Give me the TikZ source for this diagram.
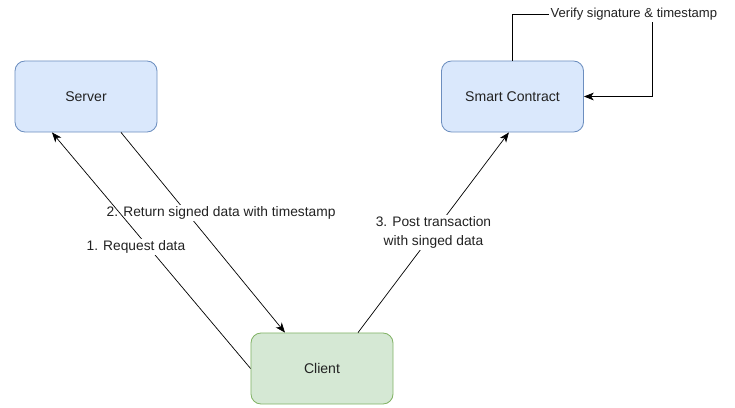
\documentclass[tikz,border=0pt]{standalone}
\usepackage{fontspec}
\setmainfont{Liberation Sans}
\usetikzlibrary{arrows.meta}
\definecolor{blueFill}{HTML}{DAE8FC}
\definecolor{blueLine}{HTML}{6C8EBF}
\definecolor{greenFill}{HTML}{D5E8D4}
\definecolor{greenLine}{HTML}{82B366}
\definecolor{txt}{HTML}{222222}
\tikzset{
  box/.style={draw,rectangle,rounded corners=0.25cm,line width=0.6pt,minimum width=3.55cm,minimum height=1.775cm,font=\fontsize{10}{12}\selectfont,text=txt},
  bluebox/.style={box,fill=blueFill,draw=blueLine},
  greenbox/.style={box,fill=greenFill,draw=greenLine},
  lbl/.style={fill=white,inner sep=1pt,font=\fontsize{9.8}{13.8}\selectfont,text=txt,align=center}
}
\begin{document}
\begin{tikzpicture}[>={Stealth[length=7pt,width=5.5pt,inset=2pt]},x=0.025cm,y=-0.025cm,line width=0.5pt]
\useasboundingbox (0,0) rectangle (735,407);
\node[bluebox] (server) at (86,96.5) {Server};
\node[bluebox] (sc) at (512.5,96.5) {Smart Contract};
\node[greenbox] (client) at (322,368.5) {Client};
\coordinate (loop) at (652,14);
\draw[->] ([xshift=0.875cm]server.south) -- node[lbl,pos=0.403,xshift=0.85cm] {2. Return signed data with timestamp} ([xshift=-0.925cm]client.north);
\draw[->] (client.west) -- node[lbl,pos=0.515,xshift=-0.31cm] {1. Request data} ([xshift=-0.85cm]server.south);
\draw[->] ([xshift=0.9cm]client.north) -- node[lbl,pos=0.5] {3. Post transaction\\with singed data} ([xshift=-0.09cm]sc.south);
\draw[->] (sc.north) |- node[lbl,pos=0.935,font=\fontsize{9.3}{12}\selectfont] {Verify signature \& timestamp} (loop) |- (sc.east);
\end{tikzpicture}
\end{document}
